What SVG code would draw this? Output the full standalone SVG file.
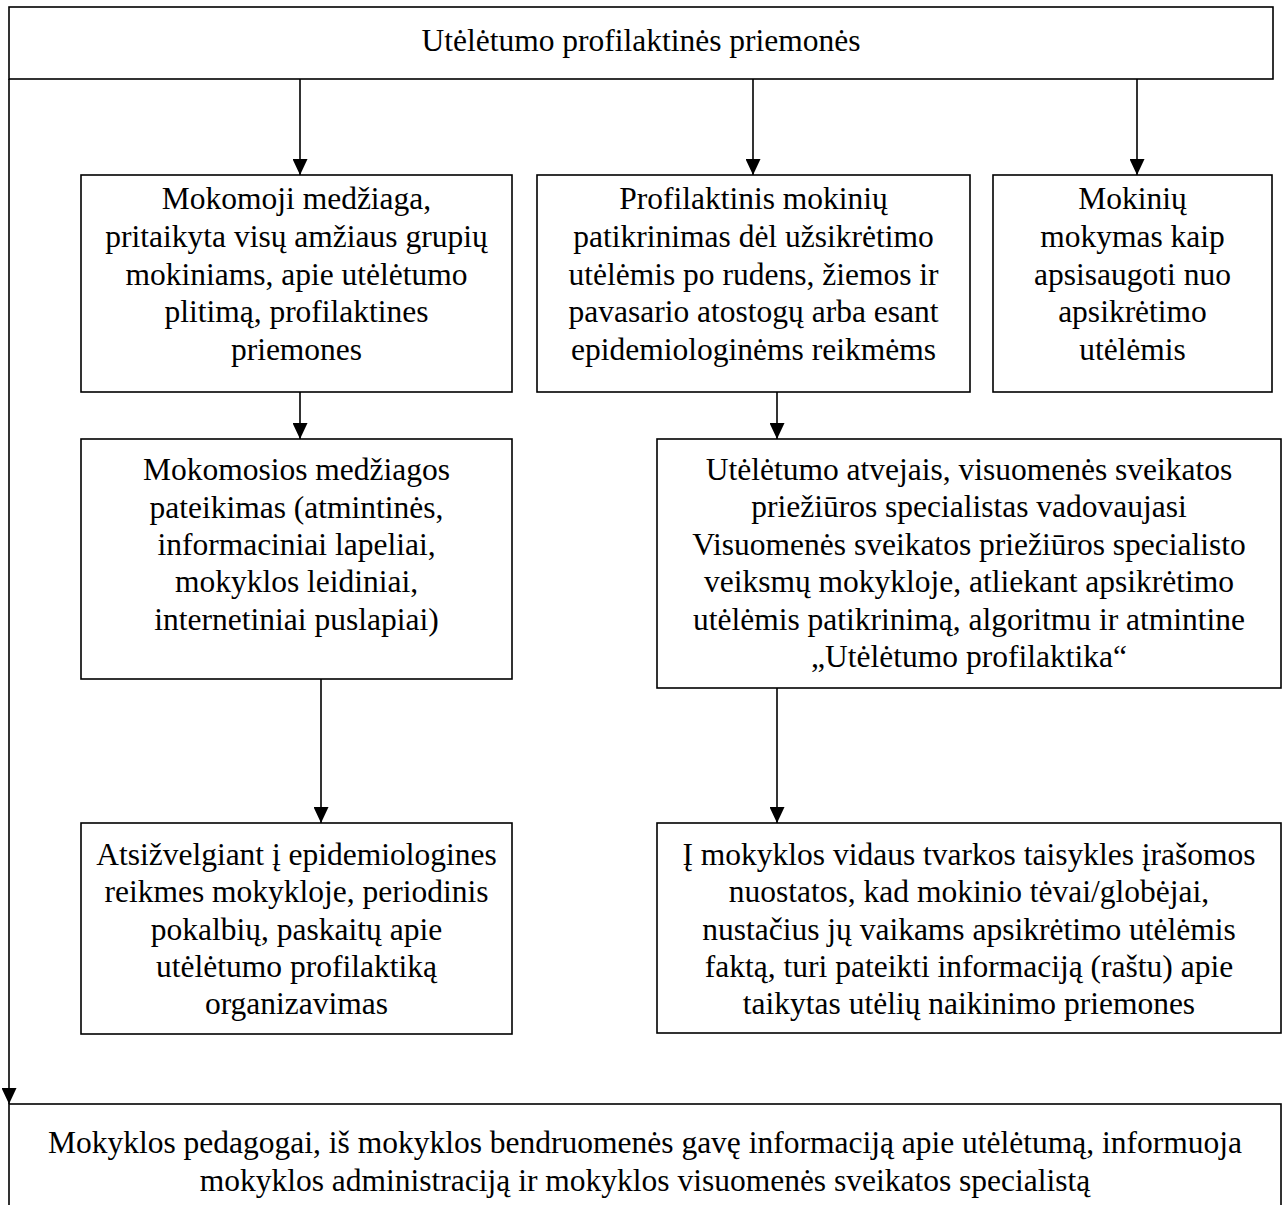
<svg xmlns="http://www.w3.org/2000/svg" width="1286" height="1205" viewBox="0 0 1286 1205">
<style>
.box{fill:#fff;stroke:#000;stroke-width:1.6}
.t{font-family:"Liberation Serif","Times New Roman",serif;font-size:31.5px;fill:#000;text-anchor:middle}
.c{stroke:#000;stroke-width:1.6;fill:none;marker-end:url(#arr)}
</style>
<defs>
<marker id="arr" markerUnits="userSpaceOnUse" viewBox="0 0 16 15" markerWidth="16" markerHeight="15" refX="16" refY="7.5" orient="auto">
<path d="M0,0 L16,7.5 L0,15 z" fill="#000"/>
</marker>
</defs>
<rect width="1286" height="1205" fill="#fff"/>
<g id="connectors">
<line class="c" x1="9" y1="79" x2="9" y2="1104"/>
<line class="c" x1="300" y1="79" x2="300" y2="175"/>
<line class="c" x1="753" y1="79" x2="753" y2="175"/>
<line class="c" x1="1137" y1="79" x2="1137" y2="175"/>
<line class="c" x1="300" y1="392" x2="300" y2="439"/>
<line class="c" x1="777" y1="392" x2="777" y2="439"/>
<line class="c" x1="321" y1="679" x2="321" y2="823"/>
<line class="c" x1="777" y1="688" x2="777" y2="823"/>
</g>
<g id="n0">
<rect class="box" x="9" y="7" width="1264" height="72"/>
<text class="t" x="641" y="51">Utėlėtumo profilaktinės priemonės</text>
</g>
<g id="n1">
<rect class="box" x="81" y="175" width="431" height="217"/>
<text class="t" x="296.5" y="209">Mokomoji medžiaga,</text>
<text class="t" x="296.5" y="247">pritaikyta visų amžiaus grupių</text>
<text class="t" x="296.5" y="285">mokiniams, apie utėlėtumo</text>
<text class="t" x="296.5" y="322">plitimą, profilaktines</text>
<text class="t" x="296.5" y="360">priemones</text>
</g>
<g id="n2">
<rect class="box" x="537" y="175" width="433" height="217"/>
<text class="t" x="753.5" y="209">Profilaktinis mokinių</text>
<text class="t" x="753.5" y="247">patikrinimas dėl užsikrėtimo</text>
<text class="t" x="753.5" y="285">utėlėmis po rudens, žiemos ir</text>
<text class="t" x="753.5" y="322">pavasario atostogų arba esant</text>
<text class="t" x="753.5" y="360">epidemiologinėms reikmėms</text>
</g>
<g id="n3">
<rect class="box" x="993" y="175" width="279" height="217"/>
<text class="t" x="1132.5" y="209">Mokinių</text>
<text class="t" x="1132.5" y="247">mokymas kaip</text>
<text class="t" x="1132.5" y="285">apsisaugoti nuo</text>
<text class="t" x="1132.5" y="322">apsikrėtimo</text>
<text class="t" x="1132.5" y="360">utėlėmis</text>
</g>
<g id="n4">
<rect class="box" x="81" y="439" width="431" height="240"/>
<text class="t" x="296.5" y="480">Mokomosios medžiagos</text>
<text class="t" x="296.5" y="518">pateikimas (atmintinės,</text>
<text class="t" x="296.5" y="555">informaciniai lapeliai,</text>
<text class="t" x="296.5" y="592">mokyklos leidiniai,</text>
<text class="t" x="296.5" y="630">internetiniai puslapiai)</text>
</g>
<g id="n5">
<rect class="box" x="657" y="439" width="624" height="249"/>
<text class="t" x="969" y="480">Utėlėtumo atvejais, visuomenės sveikatos</text>
<text class="t" x="969" y="517">priežiūros specialistas vadovaujasi</text>
<text class="t" x="969" y="555">Visuomenės sveikatos priežiūros specialisto</text>
<text class="t" x="969" y="592">veiksmų mokykloje, atliekant apsikrėtimo</text>
<text class="t" x="969" y="630">utėlėmis patikrinimą, algoritmu ir atmintine</text>
<text class="t" x="969" y="667">„Utėlėtumo profilaktika“</text>
</g>
<g id="n6">
<rect class="box" x="81" y="823" width="431" height="211"/>
<text class="t" x="296.5" y="865">Atsižvelgiant į epidemiologines</text>
<text class="t" x="296.5" y="902">reikmes mokykloje, periodinis</text>
<text class="t" x="296.5" y="940">pokalbių, paskaitų apie</text>
<text class="t" x="296.5" y="977">utėlėtumo profilaktiką</text>
<text class="t" x="296.5" y="1014">organizavimas</text>
</g>
<g id="n7">
<rect class="box" x="657" y="823" width="624" height="210"/>
<text class="t" x="969" y="865">Į mokyklos vidaus tvarkos taisykles įrašomos</text>
<text class="t" x="969" y="902">nuostatos, kad mokinio tėvai/globėjai,</text>
<text class="t" x="969" y="940">nustačius jų vaikams apsikrėtimo utėlėmis</text>
<text class="t" x="969" y="977">faktą, turi pateikti informaciją (raštu) apie</text>
<text class="t" x="969" y="1014">taikytas utėlių naikinimo priemones</text>
</g>
<g id="n8">
<rect class="box" x="9" y="1104" width="1272" height="120"/>
<text class="t" x="645" y="1153">Mokyklos pedagogai, iš mokyklos bendruomenės gavę informaciją apie utėlėtumą, informuoja</text>
<text class="t" x="645" y="1191">mokyklos administraciją ir mokyklos visuomenės sveikatos specialistą</text>
</g>
</svg>
